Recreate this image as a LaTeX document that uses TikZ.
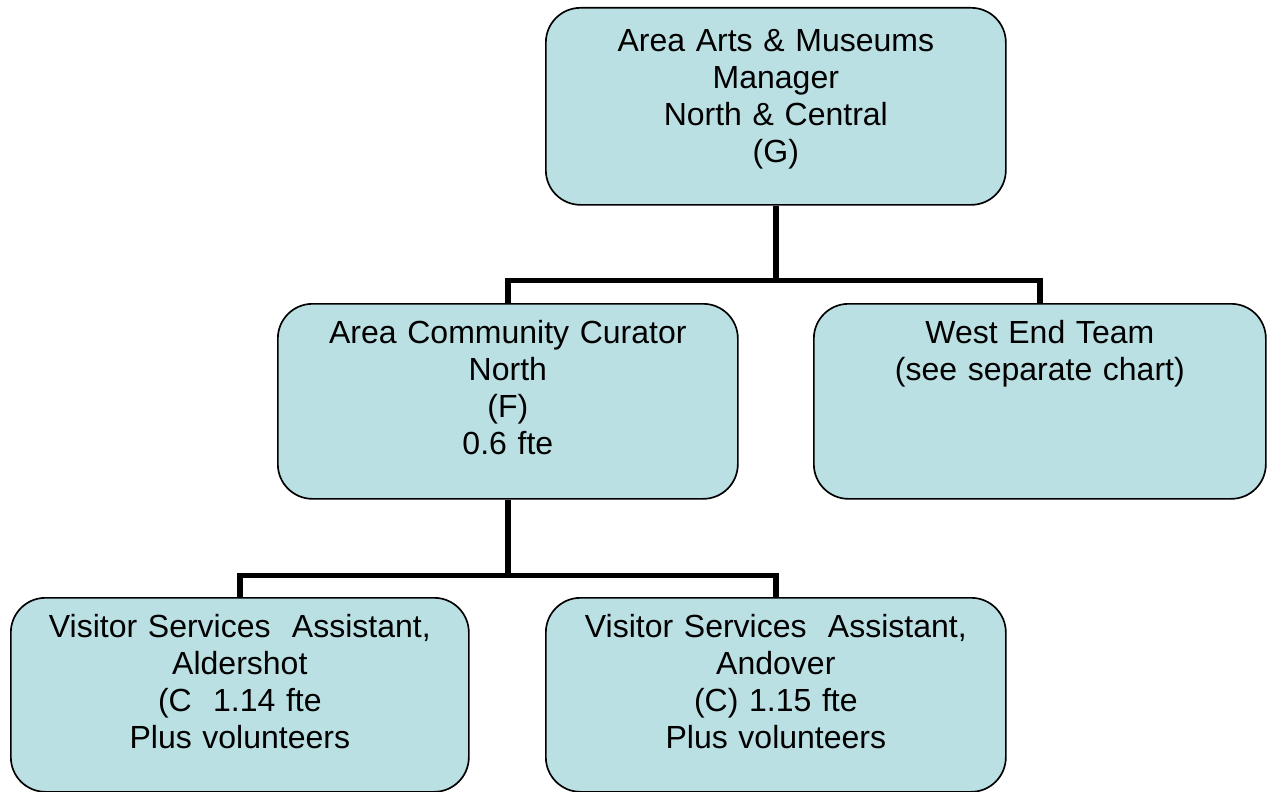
\documentclass[tikz,border=0pt]{standalone}
\usepackage{fontspec}
\setmainfont{Liberation Sans}
\usepackage{tikz}
\definecolor{postblue}{RGB}{187, 224, 227}
\usetikzlibrary{
  calc,
  positioning,
}
\tikzset{
  post/.style={draw=black,line width=1.25pt,fill=postblue,rounded corners=26pt,
    inner sep=0pt,anchor=north west,align=center,text width=345pt,
    text height=30pt,text depth=116.25pt,
    font=\fontsize{24}{27.75}\selectfont},
  link/.style={draw=black,line width=4pt},
}

\begin{document}
\begin{tikzpicture}[x=0.75pt,y=-0.75pt]
        \useasboundingbox (0,0) rectangle (1267,792);

        \node[post,text height=33pt,text depth=114.75pt]    (mgr) at (545,7)   {Area Arts \& Museums\\Manager\\North \& Central\\(G)};
        \node[post]    (curator)  at (277,303)   {Area Community Curator\\North\\(F)\\0.6 fte};
        \node[post,text width=339pt]    (westend) at (813,303)   {West End Team\\(see separate chart)};
        \node[post,text width=343.5pt,text depth=115.5pt]    (aldershot) at (10,597)   {Visitor Services~ Assistant,\\Aldershot\\(C~ 1.14 fte\\Plus volunteers};
        \node[post,text depth=115.5pt]    (andover) at (545,597)   {Visitor Services~ Assistant,\\Andover\\(C) 1.15 fte\\Plus volunteers};

        \draw[link] (mgr.south) -- ++(0,75) coordinate (j1);
        \draw[link] (j1) -| (curator.north);
        \draw[link] (j1) -| (westend.north);
        \draw[link] (curator.south) -- ++(0,76) coordinate (j2);
        \draw[link] (j2) -| (aldershot.north);
        \draw[link] (j2) -| (andover.north);
    \end{tikzpicture}
\end{document}
